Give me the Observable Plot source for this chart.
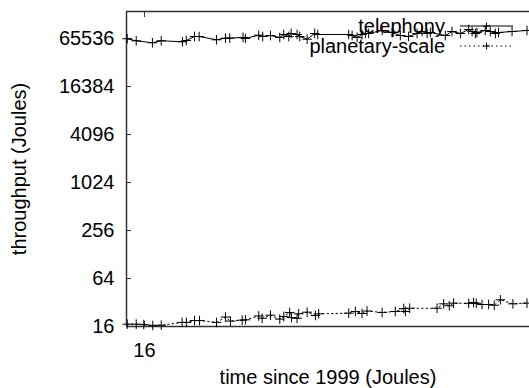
<!DOCTYPE html>
<html>
<head>
<meta charset="utf-8">
<script src="https://cdn.jsdelivr.net/npm/d3@7"></script>
<script src="https://cdn.jsdelivr.net/npm/@observablehq/plot@0.6"></script>
<style>
  html, body { margin: 0; padding: 0; background: #fff; }
  #chart svg { display: block; }
</style>
</head>
<body>
<div id="chart"></div>
<script>
const seriesNames = ["telephony", "planetary-scale"];

const telephonyTime = [15.04, 15.54, 16.44, 16.93, 18.11, 18.32, 18.78, 19.04, 20.0, 20.5, 20.74, 21.48, 21.61, 22.35, 22.57, 23.0, 23.52, 23.74, 24.02, 24.15, 24.48, 24.63, 25.04, 25.46, 25.63, 27.35, 27.54, 27.82, 28.09, 28.28, 28.46, 29.21, 29.76, 30.22, 30.68, 31.15, 31.43, 31.71, 31.89, 32.72, 33.09, 33.56, 34.02, 34.21, 34.39, 34.48, 34.94, 35.22, 35.5, 35.68, 36.43, 37.26];
const telephonyValue = [65000, 61300, 57900, 61300, 59600, 61800, 69400, 69400, 63100, 66100, 66100, 67500, 65536, 72100, 69400, 71400, 67500, 73500, 69400, 75700, 73500, 69400, 64200, 75700, 73500, 73500, 71400, 67500, 73500, 75700, 75700, 82600, 77900, 71400, 69400, 75700, 80100, 75700, 77900, 71400, 80100, 75700, 85000, 80100, 75700, 77900, 82600, 80100, 75700, 77900, 80100, 82600];

const planetaryTime = [15.04, 15.54, 15.96, 16.46, 16.93, 18.09, 18.33, 18.78, 19.06, 20.0, 20.5, 20.78, 21.43, 21.61, 22.35, 22.54, 23.0, 23.52, 23.74, 24.07, 24.17, 24.48, 24.57, 25.04, 25.5, 25.68, 27.35, 27.72, 28.09, 28.37, 29.21, 29.94, 30.41, 30.5, 30.74, 32.26, 32.63, 32.94, 33.18, 34.02, 34.29, 34.44, 34.76, 35.13, 35.44, 35.78, 36.48, 37.26];
const planetaryValue = [17.1, 17.1, 16.9, 16.5, 16.6, 18.0, 18.0, 19.0, 19.0, 18.0, 21.0, 18.7, 19.2, 19.4, 21.7, 20.3, 22.2, 19.8, 21.4, 24.0, 20.7, 20.3, 23.1, 24.2, 22.0, 23.1, 23.5, 24.7, 23.3, 25.0, 24.0, 24.7, 26.9, 24.7, 27.1, 27.1, 30.8, 29.1, 31.4, 31.2, 32.0, 31.2, 30.2, 30.2, 29.6, 34.6, 30.8, 31.4];

const yTicks = [16, 64, 256, 1024, 4096, 16384, 65536];
const xTicks = [16];
const xLabel = "time since 1999 (Joules)";
const yLabel = "throughput (Joules)";

const xDomain = [15, 37.4];
const yDomain = [16, 142800];

const telephony = telephonyTime.map((t, i) => ({t, v: telephonyValue[i]}));
const planetary = planetaryTime.map((t, i) => ({t, v: planetaryValue[i]}));

const font = "Liberation Sans, Arial, Helvetica, sans-serif";
const frameColor = "#333";

const chart = Plot.plot({
  width: 529,
  height: 388,
  marginLeft: 126,
  marginRight: 0,
  marginTop: 11,
  marginBottom: 62,
  style: {fontFamily: font, fontSize: "20px", color: "#000", background: "#fff"},
  x: {domain: xDomain, type: "linear"},
  y: {domain: yDomain, type: "log", base: 2},
  marks: [
    // frame lines
    Plot.ruleX([xDomain[0]], {stroke: frameColor, strokeWidth: 1.5}),
    Plot.ruleY([yDomain[0], yDomain[1]], {stroke: frameColor, strokeWidth: 1.5}),
    // y axis: labels and inward ticks
    Plot.axisY({ticks: yTicks, tickSize: 0, tickPadding: 12, tickFormat: d => String(d), label: null, fontSize: 20}),
    Plot.axisY({ticks: yTicks, tickSize: -5, tickFormat: () => "", label: null, stroke: frameColor}),
    // x axis: labels and inward ticks (bottom and top)
    Plot.axisX({ticks: xTicks, tickSize: 0, tickPadding: 16, tickFormat: d => String(d), label: null, fontSize: 20}),
    Plot.axisX({ticks: xTicks, tickSize: -5, tickFormat: () => "", label: null, stroke: frameColor}),
    Plot.axisX({ticks: xTicks, anchor: "top", tickSize: -5, tickFormat: () => "", label: null, stroke: frameColor}),
    // axis titles
    Plot.text([xLabel], {frameAnchor: "bottom", dy: 51, text: d => d, fontSize: 20, textAnchor: "middle", lineAnchor: "middle"}),
    Plot.text([yLabel], {frameAnchor: "left", dx: -107, rotate: -90, text: d => d, fontSize: 20, textAnchor: "middle", lineAnchor: "middle"}),
    // series
    Plot.line(telephony, {x: "t", y: "v", stroke: "#000", strokeWidth: 1}),
    Plot.dot(telephony, {x: "t", y: "v", symbol: "plus", r: 3.2, stroke: "#000", strokeWidth: 1}),
    Plot.line(planetary, {x: "t", y: "v", stroke: "#000", strokeWidth: 1, strokeDasharray: "1.5,3"}),
    Plot.dot(planetary, {x: "t", y: "v", symbol: "plus", r: 3.2, stroke: "#000", strokeWidth: 1})
  ]
});

// gnuplot-style key in the top right corner
const svg = d3.select(chart);
const key = svg.append("g").attr("font-family", font).attr("font-size", 20);
seriesNames.forEach((name, i) => {
  const cy = 26 + i * 20;
  key.append("text").attr("x", 445).attr("y", cy).attr("dy", "0.35em")
    .attr("text-anchor", "end").attr("fill", "#000").text(name);
  key.append("line").attr("x1", 460).attr("x2", 513).attr("y1", cy).attr("y2", cy)
    .attr("stroke", "#000").attr("stroke-width", 1)
    .attr("stroke-dasharray", i === 0 ? null : "1.5,3");
  key.append("path").attr("d", `M483,${cy}h7M486.5,${cy - 3.5}v7`)
    .attr("stroke", "#000").attr("stroke-width", 1);
});

document.getElementById("chart").appendChild(chart);
</script>
</body>
</html>
